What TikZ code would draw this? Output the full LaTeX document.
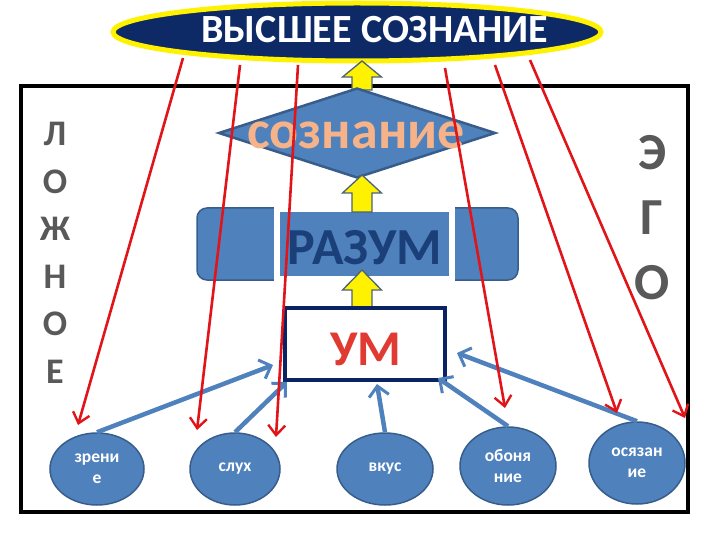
\documentclass[tikz,border=0pt]{standalone}
\usepackage{fontspec}
\setmainfont{Carlito}
\usetikzlibrary{shapes.geometric,arrows.meta}
\definecolor{oblue}{HTML}{4F81BD}
\definecolor{oedge}{HTML}{385D8A}
\definecolor{navy}{HTML}{0E2A66}
\definecolor{umnavy}{HTML}{0B2364}
\definecolor{peach}{HTML}{F6B38A}
\definecolor{razumtxt}{HTML}{1B3F78}
\definecolor{umred}{HTML}{E03A32}
\definecolor{greytxt}{HTML}{595959}
\definecolor{redline}{RGB}{225,20,25}
\definecolor{yarredge}{HTML}{4A6378}
\newcommand{\yarrowshape}[4]{% x, bottom, base, tip
  \draw[yarr] ({#1-10},#2) -- ({#1-10},#3) -- ({#1-19.5},#3) -- (#1,#4)
    -- ({#1+19.5},#3) -- ({#1+10},#3) -- ({#1+10},#2) -- cycle;}
\begin{document}
\begin{tikzpicture}[x=1pt,y=-1pt,
  yarr/.style={fill=yellow,draw=yarredge,line width=1.3pt,line join=miter},
  sense/.style={ellipse,fill=oblue,draw=oedge,line width=1.5pt,inner sep=0pt,
     text=white,align=center,font=\fontsize{17.5}{21}\selectfont\bfseries},
  bluearr/.style={draw=oblue,line width=4.5pt,
     -{Straight Barb[length=10pt,width=20pt,line width=3pt]}},
  redarr/.style={draw=redline,line width=2.6pt,
     -{Straight Barb[length=10pt,width=17pt,line width=2.4pt]}},
  frame/.style={draw=black,line width=4.5pt}]
\useasboundingbox (0,0) rectangle (720,540);
\fill[white] (0,0) rectangle (720,540);
% outer frame
\draw[frame] (21,86) rectangle (688,512);
% top ellipse
\node[ellipse,fill=navy,draw=yellow,line width=5pt,minimum width=488pt,
  minimum height=58pt,inner sep=0pt] (top) at (357,32) {};
\node[text=white,font=\fontsize{40}{48}\selectfont\bfseries,inner sep=0pt]
  (toptext) at (375,30) {ВЫСШЕЕ СОЗНАНИЕ};
% yellow arrow 1
\yarrowshape{362}{90}{77}{61}
% diamond
\node[diamond,fill=oblue,draw=oedge,line width=2.5pt,aspect=3.08,
  minimum width=277pt,minimum height=90pt,inner sep=0pt] (soz) at (357,133) {};
\node[text=peach,font=\fontsize{54}{60}\selectfont\bfseries,inner sep=0pt]
  (soztext) at (356,135) {сознание};
% razum
\node[rectangle,rounded corners=10pt,fill=oblue,draw=oedge,line width=1.5pt,
  minimum width=321pt,minimum height=72pt,inner sep=0pt] (razbg) at (357.5,244) {};
\node[rectangle,fill=oblue,draw=white,line width=5.5pt,
  minimum width=175pt,minimum height=69pt,inner sep=0pt] (razbox) at (364.5,244) {};
\node[text=razumtxt,font=\fontsize{52}{56}\selectfont\bfseries,inner sep=0pt]
  (raztext) at (365,248) {РАЗУМ};
% yellow arrow 2
\yarrowshape{362}{212}{193}{175}
% yellow arrow 3
\yarrowshape{362}{308}{290}{270}
% UM
\node[rectangle,fill=white,draw=umnavy,line width=4.5pt,
  minimum width=160pt,minimum height=72pt,inner sep=0pt] (um) at (365,344) {};
\node[text=umred,font=\fontsize{50}{54}\selectfont\bfseries,inner sep=0pt]
  (umtext) at (366,349) {УМ};
% side words
\node[text=greytxt,font=\fontsize{36}{47.5}\selectfont\bfseries,align=center,
  inner sep=0pt] (lozh) at (55,253) {Л\\О\\Ж\\Н\\О\\Е};
\node[text=greytxt,font=\fontsize{52}{65}\selectfont\bfseries,align=center,
  inner sep=0pt] (ego) at (652,218) {Э\\Г\\О};
% senses
\node[sense,minimum width=94pt,minimum height=72pt] (zr) at (97,469) {зрени\\е};
\node[sense,minimum width=90pt,minimum height=72pt] (sl) at (235,469) {слух};
\node[sense,minimum width=96pt,minimum height=72pt] (vk) at (385,469) {вкус};
\node[sense,minimum width=96pt,minimum height=78pt] (ob) at (508,466) {обоня\\ние};
\node[sense,minimum width=96pt,minimum height=82pt] (os) at (637,463) {осязан\\ие};
% blue arrows
\coordinate (b1) at (273,365);
\coordinate (b2) at (287,382);
\coordinate (b3) at (377,384);
\coordinate (b4) at (438,378);
\coordinate (b5) at (457,353);
\draw[bluearr] (zr.north) -- (b1);
\draw[bluearr] (sl.north) -- (b2);
\draw[bluearr] (vk.north) -- (b3);
\draw[bluearr] (ob.north) -- (b4);
\draw[bluearr] (os.north) -- (b5);
% red arrows
\coordinate (r1s) at (183,58);  \coordinate (r1e) at (78,425);
\coordinate (r2s) at (240,65);  \coordinate (r2e) at (197,430);
\coordinate (r3s) at (298,65);  \coordinate (r3e) at (276,437);
\coordinate (r4s) at (445,68);  \coordinate (r4e) at (505,408);
\coordinate (r5s) at (495,65);  \coordinate (r5e) at (617,413);
\coordinate (r6s) at (530,60);  \coordinate (r6e) at (685,418);
\foreach \i in {1,...,6} {\draw[redarr] (r\i s) -- (r\i e);}
\end{tikzpicture}
\end{document}
